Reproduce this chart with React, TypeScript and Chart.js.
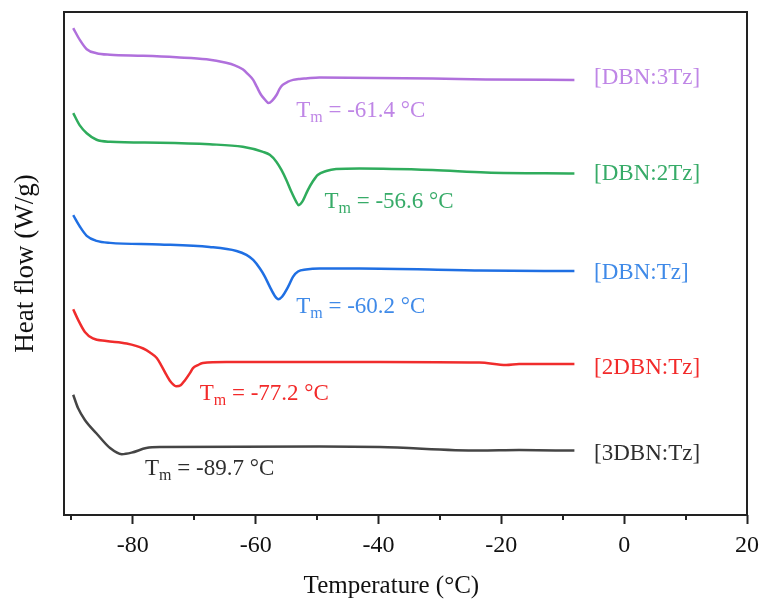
import React, { useEffect, useRef } from 'react';
import { Chart, registerables } from 'chart.js';

Chart.register(...registerables);

// ---- axis ticks ----
const majorTicks = [-80, -60, -40, -20, 0, 20];
const minorTicks = [-90, -70, -50, -30, -10, 10];

// ---- series: temperature (°C) and heat flow (offset, arbitrary units) ----
const tempDBN3Tz = [-89.7, -88.6, -87.5, -85.9, -83.7, -78.3, -72.9, -68.0, -64.8, -63.4, -62.1, -61.3, -60.4, -59.8, -59.1, -58.5, -57.9, -57.3, -56.6, -56.1, -55.6, -54.8, -53.9, -52.8, -51.8, -49.6, -31.2, -22.5, -8.1];
const flowDBN3Tz = [96.8, 94.4, 92.6, 91.8, 91.5, 91.3, 91.0, 90.6, 89.9, 89.4, 88.6, 87.7, 86.5, 85.1, 83.5, 82.6, 81.9, 82.4, 83.5, 84.7, 85.5, 86.1, 86.5, 86.7, 86.8, 87.0, 86.8, 86.6, 86.5];

const tempDBN2Tz = [-89.7, -88.6, -87.5, -85.9, -83.7, -75.6, -67.5, -62.1, -58.8, -57.7, -56.6, -55.8, -55.0, -54.2, -53.4, -53.0, -52.4, -51.5, -50.7, -49.9, -48.5, -46.9, -43.1, -31.2, -22.5, -8.1];
const flowDBN2Tz = [79.9, 77.4, 75.9, 74.6, 74.2, 74.0, 73.7, 73.2, 72.2, 71.6, 70.2, 68.6, 66.6, 64.3, 62.3, 61.6, 62.3, 64.6, 66.3, 67.6, 68.4, 68.8, 68.9, 68.6, 68.1, 67.9];

const tempDBNTz = [-89.7, -88.6, -87.5, -85.9, -83.7, -75.6, -67.5, -63.1, -61.5, -60.4, -59.3, -58.5, -57.7, -56.9, -56.3, -55.7, -54.7, -53.9, -53.1, -51.8, -49.6, -43.1, -23.6, -8.1];
const flowDBNTz = [59.6, 57.3, 55.5, 54.5, 54.1, 53.8, 53.3, 52.5, 51.7, 50.7, 49.0, 47.4, 45.4, 43.6, 42.9, 43.4, 45.4, 47.4, 48.4, 48.8, 49.0, 49.0, 48.6, 48.5];

const temp2DBNTz = [-89.7, -88.9, -87.8, -86.5, -84.3, -81.0, -78.3, -77.2, -76.1, -75.3, -74.5, -73.7, -72.9, -72.2, -71.5, -70.7, -70.2, -69.4, -68.6, -64.8, -49.6, -39.8, -23.6, -19.2, -17.1, -8.1];
const flow2DBNTz = [40.9, 38.8, 36.4, 35.1, 34.6, 34.1, 33.1, 32.3, 31.2, 29.6, 27.8, 26.3, 25.6, 25.8, 26.8, 28.2, 29.2, 29.8, 30.2, 30.4, 30.4, 30.4, 30.3, 29.8, 30.0, 30.0];

const temp3DBNTz = [-89.7, -88.9, -87.8, -85.9, -83.7, -81.8, -80.2, -77.8, -75.6, -49.6, -39.8, -23.6, -17.1, -8.1];
const flow3DBNTz = [23.9, 21.2, 18.9, 16.2, 13.3, 12.1, 12.4, 13.3, 13.5, 13.6, 13.5, 12.8, 12.9, 12.8];

// ---- labels ----
const seriesNames = ['[DBN:3Tz]', '[DBN:2Tz]', '[DBN:Tz]', '[2DBN:Tz]', '[3DBN:Tz]'];
const tmValues = ['-61.4', '-56.6', '-60.2', '-77.2', '-89.7'];
const xTitle = 'Temperature (°C)';
const yTitle = 'Heat flow (W/g)';
// label anchors in data units
const nameTemp = [-4.9, -4.9, -4.9, -4.9, -4.9];
const nameFlow = [86.9, 67.8, 48.2, 29.3, 12.1];
const tmTemp = [-53.4, -48.8, -53.4, -69.1, -78.0];
const tmFlow = [79.2, 61.0, 40.1, 22.9, 8.0];
const xTitleTemp = -37.9;

const lineColors = ['#b070dc', '#2fac5c', '#1f6fe3', '#f02c2c', '#454545'];
const textColors = ['#bf86e6', '#37ab68', '#3f8ae8', '#f22a2a', '#2e2e2e'];

const FONT = '"Liberation Serif", "Times New Roman", serif';

const allTemps = [tempDBN3Tz, tempDBN2Tz, tempDBNTz, temp2DBNTz, temp3DBNTz];
const allFlows = [flowDBN3Tz, flowDBN2Tz, flowDBNTz, flow2DBNTz, flow3DBNTz];

const decorPlugin = {
  id: 'decor',
  afterDatasetsDraw(chart: any) {
    const { ctx, chartArea, scales } = chart;
    const x = scales.x;
    const y = scales.y;
    ctx.save();
    // frame
    ctx.strokeStyle = '#222';
    ctx.lineWidth = 2;
    ctx.strokeRect(chartArea.left, chartArea.top, chartArea.right - chartArea.left, chartArea.bottom - chartArea.top);
    // minor ticks
    minorTicks.forEach((v) => {
      const px = Math.round(x.getPixelForValue(v));
      ctx.beginPath();
      ctx.moveTo(px, chartArea.bottom);
      ctx.lineTo(px, chartArea.bottom + 5);
      ctx.stroke();
    });
    // x title
    ctx.fillStyle = '#111';
    ctx.font = `25px ${FONT}`;
    ctx.textAlign = 'center';
    ctx.textBaseline = 'alphabetic';
    ctx.fillText(xTitle, x.getPixelForValue(xTitleTemp), chartArea.bottom + 78);
    // series names
    ctx.textAlign = 'left';
    seriesNames.forEach((name, i) => {
      ctx.font = `23px ${FONT}`;
      ctx.fillStyle = textColors[i];
      ctx.textBaseline = 'middle';
      ctx.fillText(name, x.getPixelForValue(nameTemp[i]), y.getPixelForValue(nameFlow[i]));
    });
    // Tm annotations
    tmValues.forEach((tm, i) => {
      const x0 = x.getPixelForValue(tmTemp[i]);
      const y0 = y.getPixelForValue(tmFlow[i]);
      ctx.fillStyle = textColors[i];
      ctx.textBaseline = 'alphabetic';
      ctx.font = `23px ${FONT}`;
      ctx.fillText('T', x0, y0);
      const wT = ctx.measureText('T').width;
      ctx.font = `16px ${FONT}`;
      ctx.fillText('m', x0 + wT, y0 + 5);
      const wm = ctx.measureText('m').width;
      ctx.font = `23px ${FONT}`;
      ctx.fillText(` = ${tm} °C`, x0 + wT + wm, y0);
    });
    ctx.restore();
  },
};

export default function App() {
  const ref = useRef<HTMLCanvasElement>(null);

  useEffect(() => {
    if (!ref.current) return;
    const datasets = allTemps.map((temps, i) => ({
      label: seriesNames[i],
      data: temps.map((t, j) => ({ x: t, y: allFlows[i][j] })),
      borderColor: lineColors[i],
      backgroundColor: lineColors[i],
      borderWidth: 2.5,
      pointRadius: 0,
      cubicInterpolationMode: 'monotone' as const,
      fill: false,
    }));
    const chart = new Chart(ref.current, {
      type: 'line',
      data: { datasets },
      plugins: [decorPlugin],
      options: {
        animation: false,
        responsive: false,
        layout: { padding: { top: 12, right: 14, left: 0, bottom: 0 } },
        plugins: { legend: { display: false }, tooltip: { enabled: false } },
        scales: {
          x: {
            type: 'linear',
            min: -91.2,
            max: 20,
            afterBuildTicks: (axis: any) => {
              axis.ticks = majorTicks.map((v) => ({ value: v }));
            },
            afterFit: (axis: any) => {
              axis.height = 86;
              axis.paddingRight = 0;
              axis.paddingLeft = 0;
            },
            ticks: {
              font: { family: FONT, size: 24 },
              color: '#111',
              padding: 7,
              maxRotation: 0,
              autoSkip: false,
            },
            grid: {
              display: true,
              drawOnChartArea: false,
              drawTicks: true,
              tickLength: 9,
              tickWidth: 2,
              tickColor: '#222',
            },
            border: { display: false },
            title: { display: false },
          },
          y: {
            type: 'linear',
            min: 0,
            max: 100,
            afterFit: (axis: any) => {
              axis.width = 64;
            },
            ticks: { display: false },
            grid: { display: false, drawTicks: false },
            border: { display: false },
            title: {
              display: true,
              text: yTitle,
              font: { family: FONT, size: 27 },
              color: '#111',
              padding: { top: 10, bottom: 0 },
            },
          },
        },
      },
    });
    return () => chart.destroy();
  }, []);

  return (
    <canvas
      ref={ref}
      width={761}
      height={601}
      style={{ position: 'absolute', left: 0, top: 0, display: 'block', width: 761, height: 601 }}
    />
  );
}
